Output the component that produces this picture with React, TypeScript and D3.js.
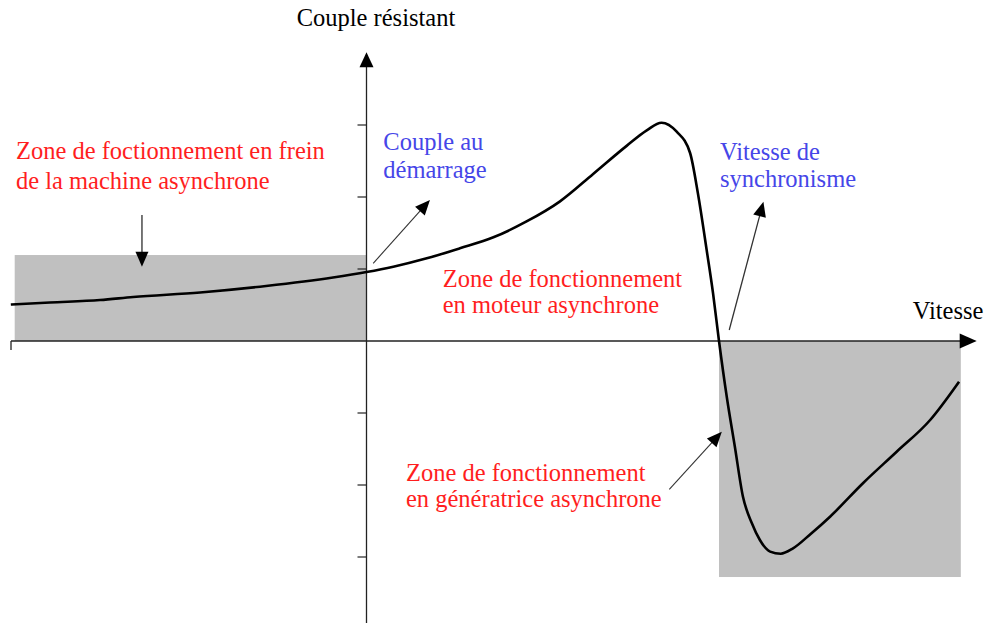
import React from "react";
import * as d3 from "d3";

// Speed in % of synchronous speed, torque in tick units
const speed = [-100.9, -89.8, -75.6, -66.2, -47.2, -28.5, -9.5, 0, 7.6, 17.1, 26.5, 36.0, 45.4, 54.9, 64.3, 73.8, 79.5, 83.7, 88.0, 91.8, 94.0, 96.5, 98.3, 100, 102.2, 104.5, 106.8, 109.3, 111.6, 114.5, 117.5, 121.0, 126.0, 131.5, 140.9, 150.4, 159.9, 168.1];
const torque = [0.507, 0.535, 0.569, 0.611, 0.674, 0.764, 0.882, 0.958, 1.032, 1.149, 1.288, 1.44, 1.66, 1.94, 2.32, 2.71, 2.925, 3.032, 2.907, 2.611, 2.056, 1.264, 0.667, 0, -0.774, -1.468, -2.163, -2.528, -2.764, -2.925, -2.955, -2.88, -2.68, -2.44, -1.972, -1.538, -1.097, -0.565];

const yTicks = [-3, -2, -1, 1, 2, 3];

// zones: [x0, x1, y0, y1] in data units
const zoneX0 = [-99.8, 100];
const zoneX1 = [0, 168.6];
const zoneY0 = [0, 0];
const zoneY1 = [1.194, -3.278];

// annotation arrows in data units
const arrowFromX = [-63.7, 1.9, 102.9, 85.9];
const arrowFromY = [1.75, 1.079, 0.153, -2.06];
const arrowToX = [-63.7, 18.0, 112.6, 100.8];
const arrowToY = [1.032, 1.958, 1.935, -1.26];
const arrowColor = ["#555", "#333", "#333", "#333"];
const arrowWidth = [1.6, 1.1, 1.3, 1.1];

const labelLines = [
  ["Zone de foctionnement en frein", "de la machine asynchrone"],
  ["Couple au", "démarrage"],
  ["Zone de fonctionnement", "en moteur asynchrone"],
  ["Vitesse de", "synchronisme"],
  ["Zone de fonctionnement", "en génératrice asynchrone"],
];
const labelColor = ["#ff1e1e", "#4646e8", "#ff1e1e", "#4646e8", "#ff1e1e"];
const labelX = [16, 383.3, 442.7, 720, 406];
const labelY = [159.3, 150, 286.7, 160, 480.7];
const labelGap = [30, 27.5, 26.6, 27.3, 26];

const W = 989;
const H = 623;

function arrowHead(x1: number, y1: number, x2: number, y2: number, len: number, half: number) {
  const a = Math.atan2(y2 - y1, x2 - x1);
  const bx = x2 - len * Math.cos(a);
  const by = y2 - len * Math.sin(a);
  const px = -Math.sin(a) * half;
  const py = Math.cos(a) * half;
  return `M${x2},${y2}L${bx + px},${by + py}L${bx - px},${by - py}Z`;
}

export default function App() {
  const x = d3.scaleLinear().domain([0, 100]).range([366.5, 719]);
  const y = d3.scaleLinear().domain([0, 3]).range([341, 125]);

  const pts = speed.map((s, i) => [s, torque[i]] as [number, number]);
  const line = d3
    .line<[number, number]>()
    .x((d) => x(d[0]))
    .y((d) => y(d[1]))
    .curve(d3.curveMonotoneX);

  const x0 = x(0);
  const y0 = y(0);
  const xLeft = x(-100.85);
  const xTip = x(173.1);
  const yTip = y(4.01);

  const font = "'Liberation Serif', 'Times New Roman', serif";

  return (
    <svg
      width={W}
      height={H}
      style={{ position: "absolute", left: 0, top: 0, background: "#fff" }}
      fontFamily={font}
    >
      <rect x={0} y={0} width={W} height={H} fill="#fff" />
      {zoneX0.map((_, i) => (
        <rect
          key={"z" + i}
          x={Math.min(x(zoneX0[i]), x(zoneX1[i]))}
          y={Math.min(y(zoneY0[i]), y(zoneY1[i]))}
          width={Math.abs(x(zoneX1[i]) - x(zoneX0[i]))}
          height={Math.abs(y(zoneY1[i]) - y(zoneY0[i]))}
          fill="#c0c0c0"
        />
      ))}
      {/* horizontal axis */}
      <line x1={xLeft} y1={y0} x2={xTip - 10} y2={y0} stroke="#222" strokeWidth={1.3} />
      <line x1={xLeft} y1={y0} x2={xLeft} y2={y0 + 9} stroke="#222" strokeWidth={1.3} />
      <path d={arrowHead(xLeft, y0, xTip, y0, 17, 7.5)} fill="#000" />
      {/* vertical axis */}
      <line x1={x0} y1={H} x2={x0} y2={yTip + 10} stroke="#222" strokeWidth={1.3} />
      <path d={arrowHead(x0, H, x0, yTip, 15, 7)} fill="#000" />
      {yTicks.map((t) => (
        <line key={"t" + t} x1={x0 - 9} x2={x0} y1={y(t)} y2={y(t)} stroke="#222" strokeWidth={1.2} />
      ))}
      {/* curve */}
      <path d={line(pts) || ""} fill="none" stroke="#000" strokeWidth={2.6} strokeLinejoin="round" />
      {/* annotation arrows */}
      {arrowFromX.map((_, i) => {
        const ax1 = x(arrowFromX[i]);
        const ay1 = y(arrowFromY[i]);
        const ax2 = x(arrowToX[i]);
        const ay2 = y(arrowToY[i]);
        const a = Math.atan2(ay2 - ay1, ax2 - ax1);
        return (
          <g key={"a" + i}>
            <line
              x1={ax1}
              y1={ay1}
              x2={ax2 - 10 * Math.cos(a)}
              y2={ay2 - 10 * Math.sin(a)}
              stroke={arrowColor[i]}
              strokeWidth={arrowWidth[i]}
            />
            <path d={arrowHead(ax1, ay1, ax2, ay2, 15, 6.5)} fill="#000" />
          </g>
        );
      })}
      {/* axis titles */}
      <text x={x0 - 69.8} y={26} fontSize={24.5} fill="#000">
        Couple résistant
      </text>
      <text x={912.7} y={319.3} fontSize={24.5} fill="#000">
        Vitesse
      </text>
      {/* labels */}
      {labelLines.map((lines, i) => (
        <text key={"l" + i} x={labelX[i]} y={labelY[i]} fontSize={24.5} fill={labelColor[i]}>
          {lines.map((l, j) => (
            <tspan key={j} x={labelX[i]} y={labelY[i] + j * labelGap[i]}>
              {l}
            </tspan>
          ))}
        </text>
      ))}
    </svg>
  );
}
